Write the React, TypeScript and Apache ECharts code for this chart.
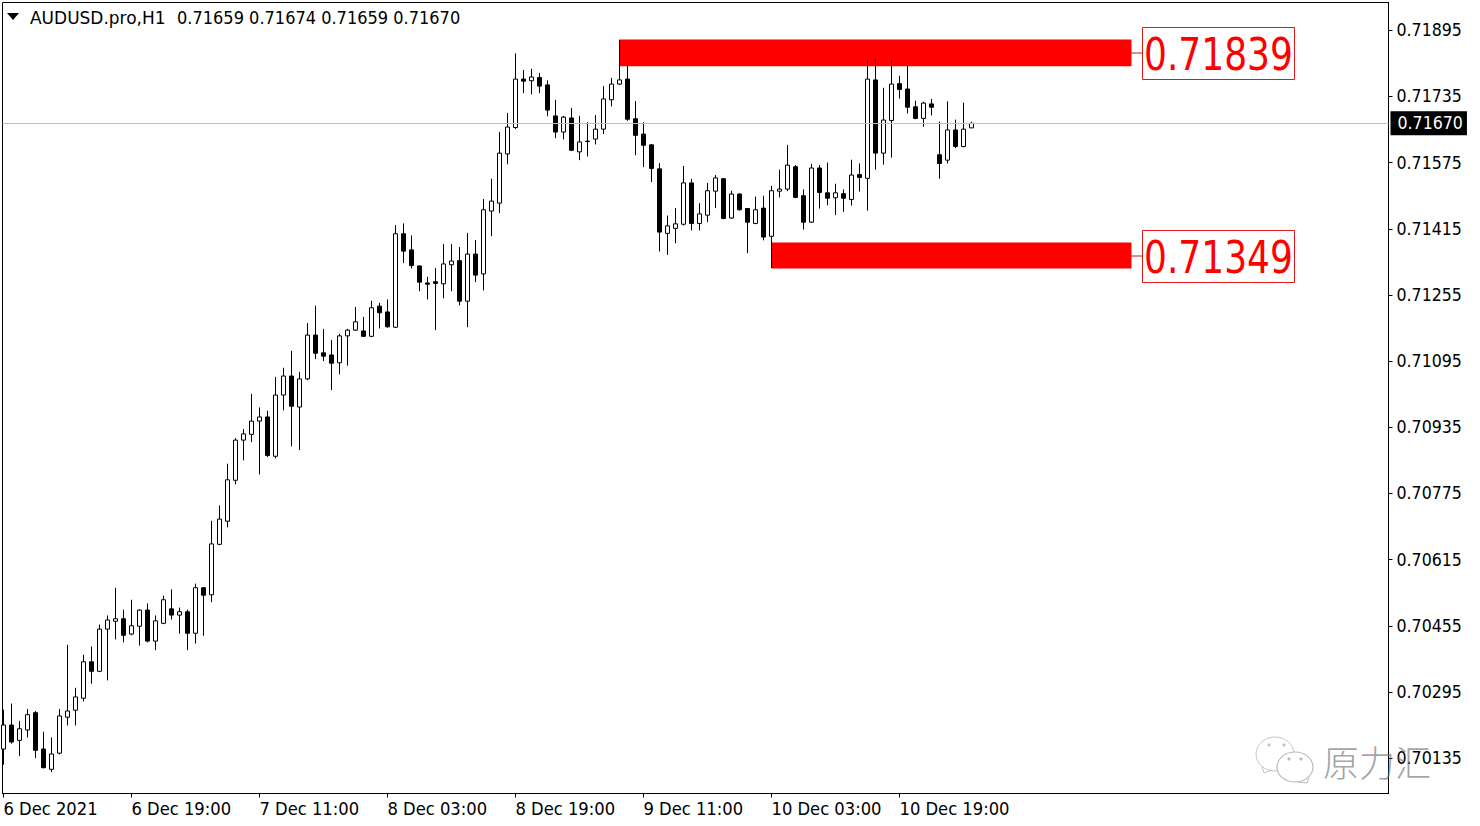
import React, { useEffect, useRef } from "react";
import * as echarts from "echarts";

const opens = [0.70157,0.70215,0.70178,0.70203,0.70245,0.70157,0.70108,0.70147,0.70234,0.70251,0.70280,0.70368,0.70345,0.70447,0.70466,0.70472,0.70435,0.70454,0.70493,0.70418,0.70461,0.70496,0.70481,0.70489,0.70437,0.70547,0.70530,0.70652,0.70708,0.70807,0.70904,0.70918,0.70950,0.70960,0.70865,0.71013,0.71059,0.70984,0.71052,0.71158,0.71115,0.71110,0.71091,0.71156,0.71170,0.71168,0.71155,0.71228,0.71214,0.71177,0.71403,0.71364,0.71325,0.71284,0.71287,0.71282,0.71328,0.71338,0.71240,0.71354,0.71306,0.71458,0.71477,0.71596,0.71660,0.71777,0.71773,0.71781,0.71763,0.71688,0.71649,0.71683,0.71601,0.71626,0.71632,0.71656,0.71727,0.71765,0.71777,0.71681,0.71644,0.71618,0.71560,0.71404,0.71416,0.71426,0.71526,0.71428,0.71448,0.71506,0.71536,0.71441,0.71499,0.71464,0.71428,0.71465,0.71397,0.71506,0.71511,0.71565,0.71495,0.71431,0.71562,0.71502,0.71490,0.71500,0.71486,0.71546,0.71537,0.71775,0.71598,0.71677,0.71766,0.71753,0.71710,0.71682,0.71717,0.71594,0.71581,0.71654,0.71614,0.71659];
const closes = [0.70215,0.70174,0.70206,0.70240,0.70154,0.70112,0.70145,0.70237,0.70249,0.70283,0.70368,0.70345,0.70447,0.70469,0.70472,0.70432,0.70455,0.70493,0.70418,0.70467,0.70518,0.70481,0.70489,0.70437,0.70547,0.70529,0.70653,0.70713,0.70808,0.70904,0.70919,0.70950,0.70960,0.70867,0.71013,0.71059,0.70986,0.71052,0.71158,0.71114,0.71107,0.71090,0.71156,0.71170,0.71190,0.71155,0.71224,0.71212,0.71178,0.71403,0.71361,0.71326,0.71286,0.71281,0.71283,0.71330,0.71337,0.71240,0.71354,0.71303,0.71461,0.71482,0.71598,0.71661,0.71777,0.71772,0.71782,0.71760,0.71702,0.71649,0.71685,0.71605,0.71625,0.71627,0.71656,0.71729,0.71765,0.71775,0.71680,0.71641,0.71617,0.71561,0.71407,0.71422,0.71427,0.71526,0.71428,0.71451,0.71507,0.71538,0.71440,0.71499,0.71461,0.71431,0.71461,0.71395,0.71507,0.71511,0.71569,0.71491,0.71431,0.71562,0.71503,0.71489,0.71502,0.71489,0.71545,0.71539,0.71777,0.71598,0.71678,0.71765,0.71752,0.71709,0.71682,0.71719,0.71709,0.71573,0.71654,0.71614,0.71656,0.71670];
const lows = [0.70119,0.70170,0.70140,0.70185,0.70135,0.70110,0.70101,0.70144,0.70214,0.70214,0.70272,0.70315,0.70343,0.70323,0.70422,0.70415,0.70432,0.70407,0.70415,0.70396,0.70459,0.70470,0.70436,0.70396,0.70412,0.70431,0.70512,0.70650,0.70693,0.70797,0.70855,0.70899,0.70821,0.70863,0.70860,0.70976,0.70889,0.70880,0.71049,0.71100,0.71095,0.71025,0.71063,0.71084,0.71168,0.71153,0.71153,0.71174,0.71176,0.71175,0.71332,0.71319,0.71264,0.71244,0.71170,0.71247,0.71264,0.71230,0.71177,0.71286,0.71266,0.71397,0.71453,0.71571,0.71656,0.71743,0.71740,0.71743,0.71687,0.71634,0.71631,0.71603,0.71581,0.71590,0.71619,0.71644,0.71711,0.71763,0.71676,0.71593,0.71564,0.71528,0.71360,0.71352,0.71380,0.71423,0.71411,0.71411,0.71431,0.71465,0.71438,0.71439,0.71459,0.71356,0.71426,0.71387,0.71320,0.71491,0.71506,0.71489,0.71413,0.71429,0.71464,0.71472,0.71448,0.71456,0.71471,0.71505,0.71459,0.71558,0.71570,0.71587,0.71730,0.71694,0.71680,0.71662,0.71689,0.71536,0.71573,0.71610,0.71612,0.71659];
const highs = [0.70252,0.70267,0.70225,0.70254,0.70249,0.70199,0.70185,0.70254,0.70409,0.70305,0.70385,0.70405,0.70458,0.70480,0.70547,0.70494,0.70518,0.70495,0.70509,0.70480,0.70528,0.70543,0.70499,0.70494,0.70557,0.70549,0.70709,0.70746,0.70847,0.70909,0.70931,0.71016,0.70983,0.70975,0.71057,0.71079,0.71120,0.71069,0.71187,0.71229,0.71173,0.71146,0.71161,0.71173,0.71226,0.71202,0.71241,0.71236,0.71244,0.71424,0.71428,0.71399,0.71327,0.71299,0.71320,0.71378,0.71378,0.71371,0.71405,0.71388,0.71487,0.71536,0.71649,0.71695,0.71839,0.71799,0.71802,0.71792,0.71774,0.71727,0.71688,0.71707,0.71688,0.71673,0.71690,0.71760,0.71780,0.71872,0.71812,0.71724,0.71673,0.71620,0.71574,0.71447,0.71465,0.71567,0.71536,0.71477,0.71526,0.71545,0.71538,0.71507,0.71501,0.71465,0.71493,0.71495,0.71519,0.71558,0.71618,0.71569,0.71510,0.71572,0.71569,0.71575,0.71524,0.71510,0.71582,0.71573,0.71824,0.71826,0.71756,0.71824,0.71785,0.71810,0.71725,0.71722,0.71729,0.71674,0.71723,0.71679,0.71720,0.71674];

const priceTicks = [0.70135,0.70295,0.70455,0.70615,0.70775,0.70935,0.71095,0.71255,0.71415,0.71575,0.71735,0.71895];
const timeTickIndex = [0,16,32,48,64,80,96,112];
const timeTickLabels = ["6 Dec 2021","6 Dec 19:00","7 Dec 11:00","8 Dec 03:00","8 Dec 19:00","9 Dec 11:00","10 Dec 03:00","10 Dec 19:00"];
const lastPrice = 0.7167;
const headerSymbol = "AUDUSD.pro,H1";
const headerValues = "0.71659 0.71674 0.71659 0.71670";
const levelLabels = ["0.71839","0.71349"];
const upperZone = { fromIndex: 77, toIndex: 141, low: 0.71808, high: 0.718725 };
const lowerZone = { fromIndex: 96, toIndex: 141, low: 0.713188, high: 0.713817 };
const watermark = "原力汇";

const FONT = "'DejaVu Sans Condensed', 'Noto Sans', sans-serif";

const candles = opens.map((o, i) => [i, o, closes[i], lows[i], highs[i]]);

function levelBox(label: string, top: number) {
  return [
    { type: "line", shape: { x1: 1131, y1: top + 25.5, x2: 1142, y2: top + 25.5 }, style: { stroke: "#d01010", lineWidth: 1 }, z: 10 },
    { type: "rect", shape: { x: 1142.5, y: top, width: 152, height: 52 }, style: { fill: "#fff", stroke: "#e01818", lineWidth: 1 }, z: 10 },
    {
      type: "text", x: 1144, y: top + 27.5, scaleX: 0.91, z: 11,
      style: { text: label, fill: "#ff0000", font: `44px ${FONT}`, textVerticalAlign: "middle", textAlign: "left" },
    },
  ];
}

export default function App() {
  const ref = useRef<HTMLDivElement>(null);
  useEffect(() => {
    const chart = echarts.init(ref.current!, undefined, { renderer: "svg" });
    chart.setOption({
      animation: false,
      backgroundColor: "#fff",
      textStyle: { fontFamily: FONT },
      grid: { show: true, left: 2.5, top: 2.5, right: 91.5, bottom: 32.5, borderColor: "#000", borderWidth: 1, backgroundColor: "#fff", outerBoundsMode: "none" },
      xAxis: {
        type: "value",
        min: -0.125,
        max: 173.125,
        splitLine: { show: false },
        axisLine: { show: true, onZero: false, lineStyle: { color: "#000" } },
        axisTick: { show: true, length: 4, lineStyle: { color: "#000" }, customValues: timeTickIndex },
        axisLabel: {
          customValues: timeTickIndex,
          align: "left",
          margin: 6,
          color: "#000",
          fontSize: 18.2,
          fontFamily: FONT,
          formatter: (v: number) => timeTickLabels[timeTickIndex.indexOf(v)] ?? "",
        },
      },
      yAxis: {
        type: "value",
        position: "right",
        min: 0.700495,
        max: 0.719622,
        splitLine: { show: false },
        axisLine: { show: true, onZero: false, lineStyle: { color: "#000" } },
        axisTick: { show: true, length: 4, lineStyle: { color: "#000" }, customValues: priceTicks },
        axisLabel: {
          customValues: priceTicks,
          margin: 8,
          padding: [0, 0, 2, 0],
          color: "#000",
          fontSize: 17.6,
          fontFamily: FONT,
          formatter: (v: number) => v.toFixed(5),
        },
      },
      series: [
        {
          type: "candlestick",
          data: candles,
          barWidth: 5,
          encode: { x: 0, y: [1, 2, 3, 4] },
          itemStyle: { color: "#fff", color0: "#000", borderColor: "#000", borderColor0: "#000", borderWidth: 1 },
          markArea: {
            silent: true,
            itemStyle: { color: "#ff0000", opacity: 1 },
            data: [
              [{ xAxis: upperZone.fromIndex, yAxis: upperZone.high }, { xAxis: upperZone.toIndex, yAxis: upperZone.low }],
              [{ xAxis: lowerZone.fromIndex, yAxis: lowerZone.high }, { xAxis: lowerZone.toIndex, yAxis: lowerZone.low }],
            ],
          },
          markLine: {
            silent: true,
            symbol: "none",
            precision: 5,
            animation: false,
            lineStyle: { color: "#c0c0c0", width: 1, type: "solid" },
            label: {
              show: true,
              position: "end",
              distance: 2,
              formatter: () => lastPrice.toFixed(5),
              color: "#fff",
              backgroundColor: "#000",
              padding: [3, 4, 3, 7],
              fontSize: 17.6,
              fontFamily: FONT,
            },
            data: [{ yAxis: lastPrice }],
          },
        },
      ],
      graphic: [
        { type: "polygon", shape: { points: [[7, 13], [19, 13], [13, 20]] }, style: { fill: "#000" }, z: 20 },
        { type: "text", x: 30, y: 17.5, scaleX: 1.05, z: 20, style: { text: headerSymbol, fill: "#000", font: `18px ${FONT}`, textVerticalAlign: "middle" } },
        { type: "text", x: 177, y: 17.5, z: 20, style: { text: headerValues, fill: "#000", font: `18px ${FONT}`, textVerticalAlign: "middle" } },
        ...levelBox(levelLabels[0], 27.5),
        ...levelBox(levelLabels[1], 230.5),
        { type: "ellipse", shape: { cx: 1275, cy: 754, rx: 19, ry: 17 }, style: { fill: "rgba(255,255,255,0.6)", stroke: "#c4c4c4", lineWidth: 1 }, z: 20 },
        { type: "polyline", shape: { points: [[1262, 767], [1264, 773], [1272, 770]] }, style: { fill: "none", stroke: "#c4c4c4", lineWidth: 1 }, z: 20 },
        { type: "ellipse", shape: { cx: 1295, cy: 767, rx: 18, ry: 15 }, style: { fill: "#fff", stroke: "#bcbcbc", lineWidth: 1.2 }, z: 21 },
        { type: "polyline", shape: { points: [[1298, 782], [1307, 783], [1309, 778]] }, style: { fill: "none", stroke: "#bcbcbc", lineWidth: 1 }, z: 21 },
        { type: "circle", shape: { cx: 1269, cy: 745, r: 1.6 }, style: { fill: "#c4c4c4" }, z: 21 },
        { type: "circle", shape: { cx: 1284, cy: 745, r: 1.6 }, style: { fill: "#c4c4c4" }, z: 21 },
        { type: "circle", shape: { cx: 1289, cy: 759, r: 1.6 }, style: { fill: "#bcbcbc" }, z: 22 },
        { type: "circle", shape: { cx: 1301, cy: 759, r: 1.6 }, style: { fill: "#bcbcbc" }, z: 22 },
        { type: "text", x: 1323, y: 761, z: 22, style: { text: watermark, fill: "rgba(110,110,110,0.65)", font: "300 36px 'Noto Sans CJK SC'", textVerticalAlign: "middle" } },
      ],
    } as any);
    return () => chart.dispose();
  }, []);
  return <div ref={ref} style={{ position: "absolute", left: 0, top: 0, width: 1480, height: 826 }} />;
}
